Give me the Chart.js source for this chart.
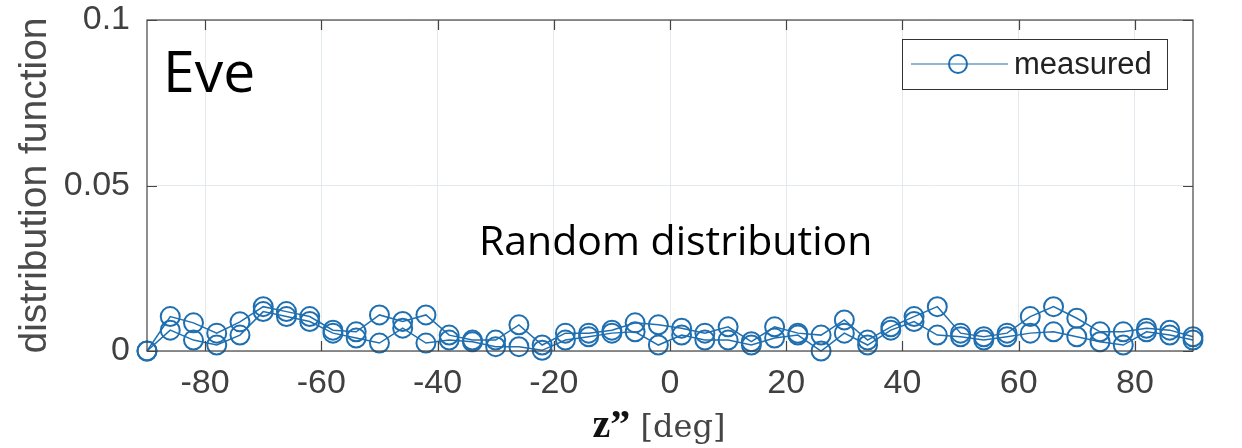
<!DOCTYPE html>
<html>
<head>
<meta charset="utf-8">
<script src="https://cdn.jsdelivr.net/npm/chart.js@4.4.0/dist/chart.umd.min.js"></script>
<style>
  html, body { margin: 0; padding: 0; background: #fff; }
  #wrap { position: relative; width: 1242px; height: 448px; }
  #c { position: absolute; left: 0; top: 0; }
  .note { position: absolute; font-family: 'Open Sans', 'Liberation Sans', sans-serif; color: #000; white-space: nowrap; }
  #eve { left: 163px; top: 31px; font-size: 57px; }
  #rand { left: 479px; top: 211px; font-size: 41px; }
  #xtitle { left: 0; width: 1318px; top: 400px; text-align: center; font-family: 'DejaVu Serif', 'Liberation Serif', serif; font-size: 32px; color: #444; position: absolute; }
  #xtitle b { font-family: 'Liberation Serif', serif; font-size: 40px; color: #111; }
</style>
</head>
<body>
<div id="wrap">
  <canvas id="c" width="1242" height="448"></canvas>
  <div class="note" id="eve">Eve</div>
  <div class="note" id="rand">Random distribution</div>
  <div id="xtitle"><b>z”</b> [deg]</div>
</div>
<script>
  const zDeg = [-90, -86, -82, -78, -74, -70, -66, -62, -58, -54, -50, -46, -42, -38, -34, -30,
    -26, -22, -18, -14, -10, -6, -2, 2, 6, 10, 14, 18, 22, 26, 30, 34,
    38, 42, 46, 50, 54, 58, 62, 66, 70, 74, 78, 82, 86, 90];

  const measuredA = [0.0000, 0.0104, 0.0085, 0.0054, 0.0088, 0.0134, 0.0119, 0.0104, 0.0063, 0.0058,
    0.0109, 0.0089, 0.0109, 0.0048, 0.0033, 0.0033, 0.0079, 0.0018, 0.0054, 0.0054,
    0.0063, 0.0085, 0.0079, 0.0069, 0.0054, 0.0073, 0.0028, 0.0073, 0.0054, 0.0048,
    0.0094, 0.0033, 0.0073, 0.0104, 0.0134, 0.0054, 0.0043, 0.0054, 0.0104, 0.0134,
    0.0099, 0.0058, 0.0058, 0.0069, 0.0063, 0.0043];

  const measuredB = [0.0000, 0.0063, 0.0033, 0.0018, 0.0048, 0.0119, 0.0104, 0.0089, 0.0054, 0.0039,
    0.0024, 0.0069, 0.0024, 0.0033, 0.0028, 0.0013, 0.0013, 0.0002, 0.0033, 0.0043,
    0.0054, 0.0058, 0.0018, 0.0048, 0.0033, 0.0033, 0.0018, 0.0039, 0.0048, 0.0000,
    0.0054, 0.0018, 0.0063, 0.0089, 0.0048, 0.0043, 0.0033, 0.0043, 0.0054, 0.0058,
    0.0043, 0.0028, 0.0018, 0.0058, 0.0048, 0.0033];

  const xTicks = [-80, -60, -40, -20, 0, 20, 40, 60, 80];
  const yTicks = [0, 0.05, 0.1];
  const yTickLabels = ['0', '0.05', '0.1'];

  const BLUE = '#1f6fb0';
  const AXIS = '#444';
  const GRID = '#e3e9ec';
  const SANS = "'Liberation Sans', Arial, sans-serif";

  function series(values) {
    return {
      label: 'measured',
      data: zDeg.map((x, i) => ({ x: x, y: values[i] })),
      borderColor: BLUE,
      borderWidth: 1.5,
      backgroundColor: 'rgba(0,0,0,0)',
      pointBorderColor: BLUE,
      pointBackgroundColor: 'rgba(0,0,0,0)',
      pointBorderWidth: 2,
      pointRadius: 9.5,
      tension: 0,
      clip: false
    };
  }

  // box, inner tick marks and boxed legend, matlab style
  const frame = {
    id: 'frame',
    afterDraw(chart) {
      const ctx = chart.ctx;
      const a = chart.chartArea;
      const xs = chart.scales.x, ys = chart.scales.y;
      ctx.save();
      ctx.strokeStyle = AXIS;
      ctx.lineWidth = 1.2;
      ctx.strokeRect(a.left, a.top, a.right - a.left, a.bottom - a.top);
      ctx.beginPath();
      xTicks.forEach(v => {
        const p = Math.round(xs.getPixelForValue(v)) + 0.5;
        ctx.moveTo(p, a.bottom); ctx.lineTo(p, a.bottom - 10);
        ctx.moveTo(p, a.top); ctx.lineTo(p, a.top + 10);
      });
      yTicks.forEach(v => {
        const p = Math.round(ys.getPixelForValue(v)) + 0.5;
        ctx.moveTo(a.left, p); ctx.lineTo(a.left + 10, p);
        ctx.moveTo(a.right, p); ctx.lineTo(a.right - 10, p);
      });
      ctx.stroke();

      // legend
      const lx = 902, ly = 39, lw = 265, lh = 50;
      ctx.fillStyle = '#fff';
      ctx.fillRect(lx, ly, lw, lh);
      ctx.strokeStyle = '#333';
      ctx.lineWidth = 1;
      ctx.strokeRect(lx + 0.5, ly + 0.5, lw, lh);
      ctx.strokeStyle = BLUE;
      ctx.lineWidth = 1.2;
      ctx.beginPath();
      ctx.moveTo(911, ly + 25); ctx.lineTo(1008, ly + 25);
      ctx.stroke();
      ctx.lineWidth = 2;
      ctx.beginPath();
      ctx.arc(958, ly + 25, 9, 0, Math.PI * 2);
      ctx.stroke();
      ctx.fillStyle = '#222';
      ctx.font = '31px ' + SANS;
      ctx.textBaseline = 'middle';
      ctx.fillText('measured', 1014, ly + 26);
      ctx.restore();
    }
  };

  new Chart(document.getElementById('c'), {
    type: 'line',
    data: { datasets: [series(measuredA), series(measuredB)] },
    plugins: [frame],
    options: {
      responsive: false,
      animation: false,
      layout: { padding: { top: 20, right: 49, left: 0, bottom: 0 } },
      plugins: { legend: { display: false }, tooltip: { enabled: false } },
      scales: {
        x: {
          type: 'linear',
          min: -90, max: 90,
          afterBuildTicks: s => { s.ticks = xTicks.map(v => ({ value: v })); },
          afterFit: s => { s.height = 97; s.paddingLeft = 0; s.paddingRight = 0; },
          grid: { color: GRID, drawTicks: false, lineWidth: 1 },
          border: { display: false },
          ticks: {
            color: '#404040', padding: 12,
            font: { family: SANS, size: 34 }
          }
        },
        y: {
          min: 0, max: 0.1,
          afterBuildTicks: s => { s.ticks = yTicks.map(v => ({ value: v })); },
          afterFit: s => { s.width = 147; s.paddingTop = 0; s.paddingBottom = 0; },
          grid: { color: GRID, drawTicks: false, lineWidth: 1 },
          border: { display: false },
          title: {
            display: true, text: 'distribution function', color: '#4a4a4a', padding: { bottom: 0, top: 12 },
            font: { family: SANS, size: 39 }
          },
          ticks: {
            color: '#404040', padding: 17,
            font: { family: SANS, size: 34 },
            callback: (v) => yTickLabels[yTicks.indexOf(v)]
          }
        }
      }
    }
  });
</script>
</body>
</html>
